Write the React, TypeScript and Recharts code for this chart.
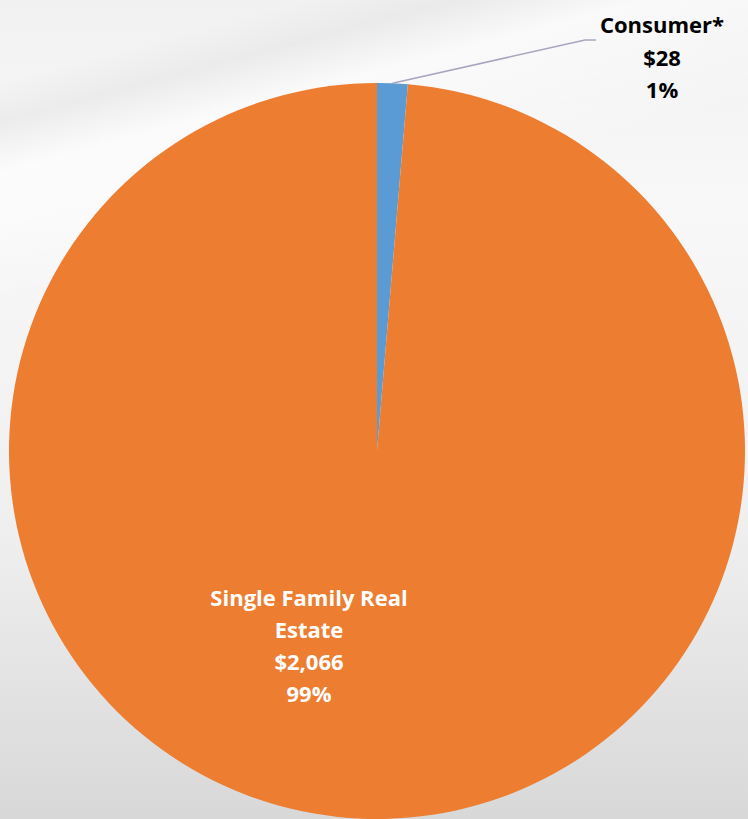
import React from "react";
import { PieChart, Pie, Cell } from "recharts";

const categories = ["Consumer*", "Single Family Real Estate"];
const values = [28, 2066];
const valueLabels = ["$28", "$2,066"];
const percentLabels = ["1%", "99%"];
const colors = ["#5B9BD5", "#ED7D31"];

const data = categories.map((name, i) => ({
  name,
  value: values[i],
  valueLabel: valueLabels[i],
  pct: percentLabels[i],
}));

const RAD = Math.PI / 180;
const FONT = "'Open Sans', 'Noto Sans', sans-serif";

const renderLabel = (props: any) => {
  const { cx, cy, midAngle, outerRadius, index, payload } = props;
  const p = payload && payload.payload ? payload.payload : payload;
  if (index === 0) {
    const sx = cx + outerRadius * Math.cos(-midAngle * RAD);
    const sy = cy + outerRadius * Math.sin(-midAngle * RAD);
    const mx = 585;
    const my = 40;
    const ex = 596;
    const tx = 662;
    return (
      <g>
        <polyline
          points={`${sx},${sy} ${mx},${my} ${ex},${my}`}
          fill="none"
          stroke="#A6A6BF"
          strokeWidth={1.5}
        />
        {[p.name, p.valueLabel, p.pct].map((l: string, i: number) => (
          <text
            key={i}
            x={tx}
            y={33 + i * 32.5}
            textAnchor="middle"
            fontFamily={FONT}
            fontWeight={700}
            fontSize={22}
            fill="#000"
          >
            {l}
          </text>
        ))}
      </g>
    );
  }
  const tx = cx - 68;
  const lines = ["Single Family Real", "Estate", p.valueLabel, p.pct];
  return (
    <g>
      {lines.map((l, i) => (
        <text
          key={i}
          x={tx}
          y={cy + 155 + i * 32}
          textAnchor="middle"
          fontFamily={FONT}
          fontWeight={700}
          fontSize={22}
          fill="#FFFFFF"
        >
          {l}
        </text>
      ))}
    </g>
  );
};

export default function App() {
  return (
    <div
      style={{
        position: "absolute",
        left: 0,
        top: 0,
        width: 748,
        height: 819,
        overflow: "hidden",
        background:
          "linear-gradient(165deg, rgba(255,255,255,0) 0%, rgba(255,255,255,0) 8%, rgba(228,228,228,0.55) 12%, rgba(255,255,255,0.6) 17%, rgba(255,255,255,0) 30%), linear-gradient(180deg, #F1F1F1 0%, #F8F8F8 25%, #EFEFEF 65%, #D8D8D8 100%)",
      }}
    >
      <PieChart width={748} height={819} margin={{ top: 0, right: 0, bottom: 0, left: 0 }}>
        <Pie
          data={data}
          dataKey="value"
          nameKey="name"
          cx={377}
          cy={451}
          outerRadius={368}
          startAngle={90}
          endAngle={-270}
          stroke="none"
          isAnimationActive={false}
          label={renderLabel}
          labelLine={false}
        >
          {data.map((d, i) => (
            <Cell key={d.name} fill={colors[i]} />
          ))}
        </Pie>
      </PieChart>
    </div>
  );
}
